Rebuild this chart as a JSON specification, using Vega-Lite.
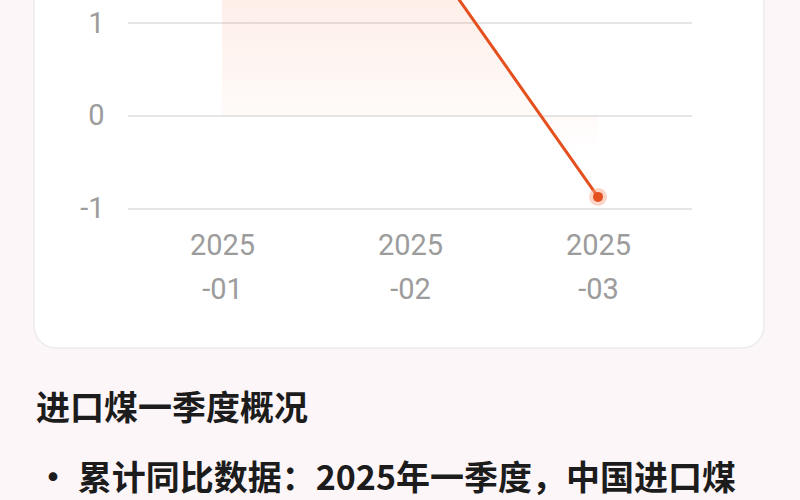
{
  "$schema": "https://vega.github.io/schema/vega-lite/v6.json",
  "width": 730,
  "height": 378,
  "autosize": "none",
  "padding": {"left": 34, "top": -30, "right": 36, "bottom": 152},
  "background": "#fcf6f9",
  "datasets": {
    "series": [
      {"month": "2025-01", "idx": 1, "value": 2.6},
      {"month": "2025-02", "idx": 2, "value": 2.0},
      {"month": "2025-03", "idx": 3, "value": -0.87}
    ],
    "gridlines": [{"level": -1}, {"level": 0}, {"level": 1}]
  },
  "title": {
    "text": "进口煤一季度概况",
    "subtitle": "\u2002\u00a0\u00a0• 累计同比数据：2025年一季度，中国进口煤",
    "orient": "bottom",
    "anchor": "start",
    "offset": 45,
    "dx": 2,
    "font": "Noto Sans CJK SC",
    "fontSize": 34,
    "fontWeight": "bold",
    "color": "#1c1c1c",
    "subtitleFont": "Noto Sans CJK SC",
    "subtitleFontSize": 34,
    "subtitleFontWeight": "bold",
    "subtitleColor": "#1c1c1c",
    "subtitlePadding": 36
  },
  "layer": [
    {
      "data": {"name": "gridlines"},
      "mark": {"type": "rule", "color": "#e6e6e6", "strokeWidth": 2},
      "encoding": {
        "y": {"field": "level", "type": "quantitative", "scale": {"domain": [-2.495, 1.57], "nice": false, "zero": false}, "axis": {"title": null, "values": [-1, 0, 1]}},
        "x": {"datum": 0.5, "type": "quantitative", "scale": {"domain": [0, 3.883], "nice": false, "zero": false}, "axis": {"title": null, "values": [1, 2, 3]}},
        "x2": {"datum": 3.5}
      }
    },
    {
      "data": {"name": "series"},
      "mark": {
        "type": "area",
        "color": {
          "gradient": "linear", "x1": 0, "y1": 0, "x2": 0, "y2": 1,
          "stops": [
            {"offset": 0, "color": "rgba(246,120,70,0.2)"},
            {"offset": 0.39, "color": "rgba(246,120,70,0.12)"},
            {"offset": 0.75, "color": "rgba(246,120,70,0.03)"},
            {"offset": 0.86, "color": "rgba(246,120,70,0)"},
            {"offset": 1, "color": "rgba(246,120,70,0)"}
          ]
        }
      },
      "encoding": {
        "x": {"field": "idx", "type": "quantitative", "scale": {"domain": [0, 3.883], "nice": false, "zero": false}, "axis": {"title": null, "values": [1, 2, 3]}},
        "y": {"field": "value", "type": "quantitative", "scale": {"domain": [-2.495, 1.57], "nice": false, "zero": false}, "axis": {"title": null, "values": [-1, 0, 1]}}
      }
    },
    {
      "data": {"name": "series"},
      "mark": {"type": "line", "color": "#e5501f", "strokeWidth": 3},
      "encoding": {
        "x": {"field": "idx", "type": "quantitative", "scale": {"domain": [0, 3.883], "nice": false, "zero": false}, "axis": {"title": null, "values": [1, 2, 3]}},
        "y": {"field": "value", "type": "quantitative", "scale": {"domain": [-2.495, 1.57], "nice": false, "zero": false}, "axis": {"title": null, "values": [-1, 0, 1]}}
      }
    },
    {
      "data": {"name": "series"},
      "mark": {"type": "point", "filled": true, "size": 320, "color": "#f7a27e", "opacity": 0.45},
      "encoding": {
        "x": {"field": "idx", "type": "quantitative", "scale": {"domain": [0, 3.883], "nice": false, "zero": false}, "axis": {"title": null, "values": [1, 2, 3]}},
        "y": {"field": "value", "type": "quantitative", "scale": {"domain": [-2.495, 1.57], "nice": false, "zero": false}, "axis": {"title": null, "values": [-1, 0, 1]}}
      }
    },
    {
      "data": {"name": "series"},
      "mark": {"type": "point", "filled": true, "size": 100, "color": "#e5501f", "opacity": 1},
      "encoding": {
        "x": {"field": "idx", "type": "quantitative", "scale": {"domain": [0, 3.883], "nice": false, "zero": false}, "axis": {"title": null, "values": [1, 2, 3]}},
        "y": {"field": "value", "type": "quantitative", "scale": {"domain": [-2.495, 1.57], "nice": false, "zero": false}, "axis": {"title": null, "values": [-1, 0, 1]}}
      }
    }
  ],
  "config": {
    "view": {"fill": "#ffffff", "stroke": "#ebebeb", "strokeWidth": 1.5, "cornerRadius": 22},
    "axisX": {
      "labelExpr": "['2025', '-0' + datum.value]",
      "grid": false, "domain": false, "ticks": false,
      "offset": -117, "labelPadding": 0,
      "labelFont": "Roboto", "labelFontSize": 29, "labelColor": "#9c9c9c",
      "labelLineHeight": 44, "labelBaseline": "top",
      "labelFlush": false, "labelOverlap": false, "labelBound": false
    },
    "axisY": {
      "labelExpr": "'' + datum.value",
      "grid": false, "domain": false, "ticks": false,
      "offset": -70, "labelPadding": 0,
      "labelFont": "Roboto", "labelFontSize": 29, "labelColor": "#9c9c9c",
      "labelFlush": false, "labelOverlap": false, "labelBound": false
    }
  }
}
